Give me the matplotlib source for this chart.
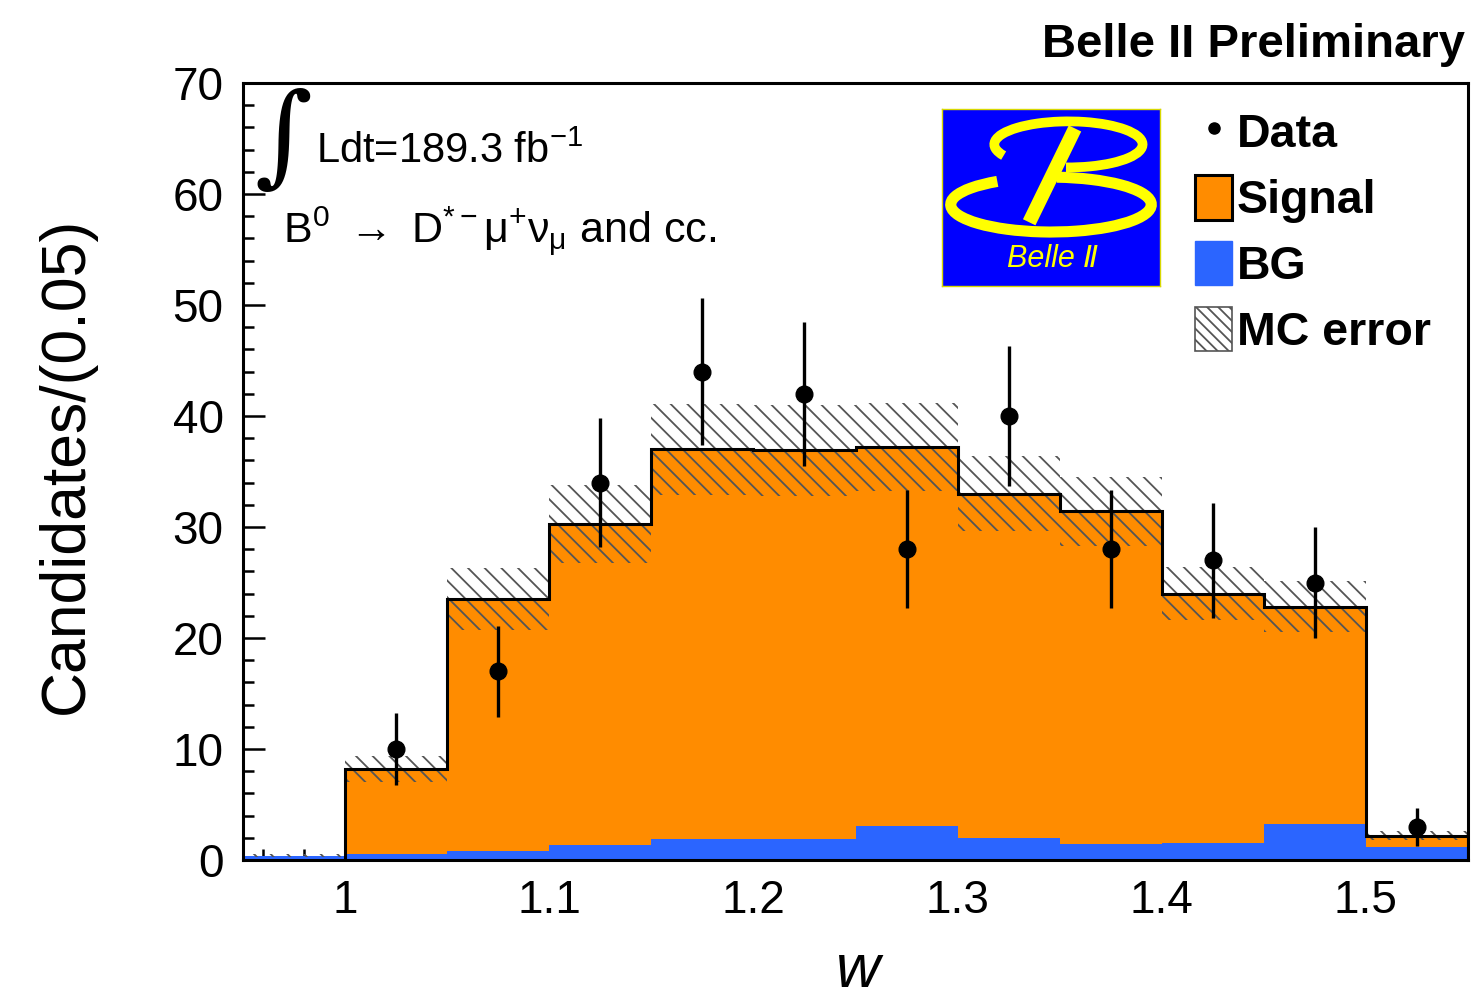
"""
Belle II B0 -> D*- mu+ nu : w 분포 (data vs signal/BG stack)
"""
import numpy as np
import matplotlib
matplotlib.use("Agg")
import matplotlib.pyplot as plt
from matplotlib.patches import Arc, Patch
from matplotlib.lines import Line2D

plt.rcParams["font.family"] = ["Liberation Sans", "DejaVu Sans"]
plt.rcParams["mathtext.fontset"] = "custom"
plt.rcParams["mathtext.rm"] = "Liberation Sans"
plt.rcParams["mathtext.it"] = "Liberation Sans:italic"
plt.rcParams["hatch.linewidth"] = 1.3

# 데이터
bin_edges = [0.95, 1.00, 1.05, 1.10, 1.15, 1.20, 1.25, 1.30, 1.35, 1.40, 1.45, 1.50, 1.55]
bg_counts = [0.4, 0.5, 0.8, 1.35, 1.9, 1.9, 3.1, 2.0, 1.45, 1.55, 3.25, 1.2]
signal_counts = [0.0, 7.7, 22.7, 28.95, 35.1, 35.0, 34.1, 31.0, 29.95, 22.45, 19.55, 1.0]
mc_error = [0.1, 1.2, 2.8, 3.5, 4.1, 4.1, 4.0, 3.4, 3.1, 2.4, 2.3, 0.4]

data_x = [1.025, 1.075, 1.125, 1.175, 1.225, 1.275, 1.325, 1.375, 1.425, 1.475, 1.525]
data_y = [10, 17, 34, 44, 42, 28, 40, 28, 27, 25, 3]
data_err = [3.2, 4.1, 5.8, 6.6, 6.5, 5.3, 6.3, 5.3, 5.2, 5.0, 1.7]

ORANGE = "#FF8C00"
BLUE = "#2B65FF"


def draw_logo(fig):
    """Belle II 로고 (파란 배경 + 노란 B)."""
    lax = fig.add_axes([942 / 1472, 1 - 286 / 1000, 218 / 1472, 177 / 1000])
    lax.set_facecolor("#0000FF")
    lax.set_xlim(0, 1)
    lax.set_ylim(0, 1)
    lax.set_xticks([])
    lax.set_yticks([])
    for sp in lax.spines.values():
        sp.set_color("#D8D800")
        sp.set_linewidth(1.0)

    lax.add_patch(Arc((0.58, 0.80), 0.68, 0.26, theta1=265, theta2=192,
                      color="#FFFF00", lw=7))
    lax.add_patch(Arc((0.50, 0.46), 0.92, 0.31, theta1=152, theta2=80,
                      color="#FFFF00", lw=8))
    lax.plot([0.40, 0.61], [0.36, 0.89], color="#FFFF00", lw=10,
             solid_capstyle="butt")
    lax.text(0.51, 0.15, "Belle Ⅱ", color="#FFFF00", fontsize=22,
             style="italic", ha="center", va="center")


def main():
    edges = np.array(bin_edges)
    bg = np.array(bg_counts)
    sig = np.array(signal_counts)
    err = np.array(mc_error)
    total = bg + sig

    fig = plt.figure(figsize=(14.72, 10), dpi=100)
    ax = fig.add_axes([243 / 1472, 140 / 1000, 1225 / 1472, 777 / 1000])

    # stack: BG 아래, signal 위
    ax.stairs(bg, edges, baseline=0, fill=True, color=BLUE, zorder=1)
    ax.stairs(total, edges, baseline=bg, fill=True, color=ORANGE, zorder=1.1)
    # MC error 밴드
    ax.stairs(total + err, edges, baseline=total - err, fill=True,
              facecolor="none", edgecolor="#555555", hatch="\\\\", lw=0, zorder=1.2)
    # 외곽선 (signal 있는 구간만)
    ax.stairs(total[1:], edges[1:], baseline=0, color="black", lw=2.2, zorder=1.3)

    ax.errorbar(data_x, data_y, yerr=data_err, fmt="o", color="black",
                markersize=12, elinewidth=2.4, capsize=0, zorder=3)

    ax.set_xlim(0.95, 1.55)
    ax.set_ylim(0, 70)
    ax.set_xticks([1.0, 1.1, 1.2, 1.3, 1.4, 1.5])
    ax.set_xticklabels(["1", "1.1", "1.2", "1.3", "1.4", "1.5"])
    ax.set_xticks(np.arange(0.96, 1.55, 0.02), minor=True)
    ax.set_yticks(range(0, 71, 10))
    ax.set_yticks(range(0, 71, 2), minor=True)
    ax.set_axisbelow(True)
    ax.tick_params(which="both", direction="in", top=False, right=False,
                   width=1.8, labelsize=33)
    ax.tick_params(which="major", length=16, pad=14)
    ax.tick_params(which="minor", length=8)
    for sp in ax.spines.values():
        sp.set_linewidth(2.2)

    fig.text(66 / 1472, 1 - 465 / 1000, "Candidates/(0.05)", rotation=90,
             fontsize=45, ha="center", va="center")
    fig.text(858 / 1472, 0.013, "w", fontsize=44, style="italic",
             ha="center", va="baseline")
    fig.text(1465 / 1472, 1 - 57 / 1000, "Belle II Preliminary", fontsize=34,
             fontweight="bold", ha="right", va="baseline")

    # 적분 luminosity, 붕괴 채널
    fig.text(283 / 1472, 1 - 141 / 1000, "∫", family="DejaVu Serif",
             fontsize=80, ha="center", va="center")
    fig.text(316 / 1472, 1 - 163 / 1000, r"Ldt=189.3 fb$^{\mathrm{-1}}$",
             fontsize=30, va="baseline")
    fig.text(283 / 1472, 1 - 243 / 1000,
             r"B$^0$ $\rightarrow$ D$^{*-}$$\mathrm{\mu}^{+}\mathrm{\nu}_{\mathrm{\mu}}$ and cc.",
             fontsize=31, va="baseline")

    draw_logo(fig)

    handles = [
        Line2D([], [], marker="o", color="black", ls="none", markersize=8),
        Patch(facecolor=ORANGE, edgecolor="black", lw=2.2),
        Patch(facecolor=BLUE, edgecolor=BLUE),
        Patch(facecolor="white", edgecolor="#555555", hatch="\\\\\\", lw=1.2),
    ]
    fig.legend(handles, ["Data", "Signal", "BG", "MC error"],
               loc="upper left", bbox_to_anchor=(1195 / 1472, 1 - 109 / 1000),
               frameon=False, borderpad=0, borderaxespad=0,
               prop={"size": 33.5, "weight": "bold"},
               handlelength=0.8, handleheight=1.1, handletextpad=0.1,
               labelspacing=0.38)

    fig.savefig("out.png", dpi=100)
    plt.close(fig)


if __name__ == "__main__":
    main()
